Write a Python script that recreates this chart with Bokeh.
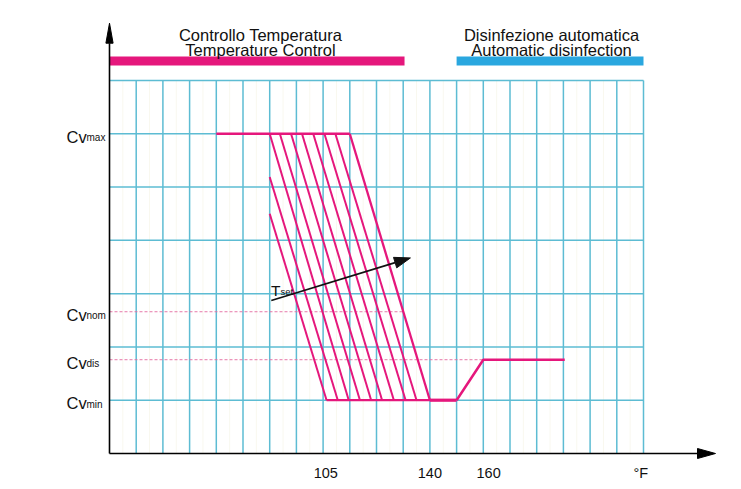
import math
from bokeh.plotting import figure
from bokeh.models import Range1d
from bokeh.core.properties import value
from bokeh.embed import file_html
from bokeh.resources import INLINE

# ---------------- data ----------------
n_cols = 20          # grid columns
n_rows = 7           # grid rows
cv_levels = [6.0, 2.66, 1.76, 1.0]
cv_subs = ["max", "nom", "dis", "min"]
tick_x = [8.1, 12.0, 14.2, 19.9]
tick_labels = ["105", "140", "160", "°F"]

env_top_x = [4.0, 9.0]          # Cv max plateau
env_right_x = [9.0, 12.0]       # highest Tset curve
env_bottom_x = [8.13, 12.0]     # Cv min floor
hold_x = [12.0, 13.0]
dis_x = [13.0, 14.0, 17.05]
dis_y = [1.0, 1.76, 1.76]

hatch_x0 = [6.0, 6.0, 6.0, 6.38, 6.80, 7.21, 7.63, 8.05, 8.46]
hatch_y0 = [4.50, 5.19, 6.0, 6.0, 6.0, 6.0, 6.0, 6.0, 6.0]
hatch_x1 = [8.13, 8.55, 8.96, 9.38, 9.80, 10.21, 10.65, 11.09, 11.50]
hatch_y1 = [1.0, 1.0, 1.0, 1.0, 1.0, 1.0, 1.0, 1.0, 1.0]

phase_line1 = ["Controllo Temperatura", "Disinfezione automatica"]
phase_line2 = ["Temperature Control", "Automatic disinfection"]
phase_start = [0.0, 13.0]
phase_end = [11.05, 20.0]
phase_colors = ["#e5177c", "#2aa7df"]

tset_start = (6.06, 2.87)
tset_end = (11.27, 3.67)
nom_dash_end = 11.0
dis_dash_end = 14.0

# ---------------- layout ----------------
W, H = 725, 481
SX, SY = 26.7, 53.29          # px per data unit
OX, OY = 109, 453             # origin in figure px
MAG = "#e5177c"
GRID = "#5dbcd3"
FONT = value("Liberation Sans")

def dy(img_y):
    return (453 - img_y) / SY

def dx(img_x):
    return (img_x - 109) / SX

p = figure(width=W, height=H, output_backend="svg", toolbar_location=None,
           x_axis_type=None, y_axis_type=None, min_border=0,
           x_range=Range1d(-OX / SX, (W - OX) / SX),
           y_range=Range1d(-(H - OY) / SY, OY / SY))
p.outline_line_color = None
p.xgrid.visible = False
p.ygrid.visible = False
p.background_fill_color = "white"
p.border_fill_color = "white"

# faint minor verticals
p.segment(x0=[k + 0.5 for k in range(n_cols)], y0=[0] * n_cols,
          x1=[k + 0.5 for k in range(n_cols)], y1=[n_rows] * n_cols,
          line_color="#f9f8ef", line_width=1)

# grid
p.segment(x0=list(range(1, n_cols + 1)), y0=[0] * n_cols,
          x1=list(range(1, n_cols + 1)), y1=[n_rows] * n_cols,
          line_color=GRID, line_width=1.5)
p.segment(x0=[0] * n_rows, y0=list(range(1, n_rows + 1)),
          x1=[n_cols] * n_rows, y1=list(range(1, n_rows + 1)),
          line_color=GRID, line_width=1.5)

# dashed reference lines
p.segment(x0=[0, 0], y0=[cv_levels[1], cv_levels[2]],
          x1=[nom_dash_end, dis_dash_end], y1=[cv_levels[1], cv_levels[2]],
          line_color="#e46a9f", line_width=0.9, line_dash="3 2")

# phase bars
p.quad(left=phase_start, right=phase_end, bottom=[dy(65)] * 2, top=[dy(56)] * 2,
       fill_color=phase_colors, line_color=None)
cx = [dx(260), dx(551)]
p.text(x=cx, y=[dy(34.5)] * 2, text=phase_line1, text_font=FONT,
       text_font_size=value("16.5px"), text_align="center",
       text_baseline="alphabetic", text_color="#111111")
p.text(x=cx, y=[dy(49.5)] * 2, text=phase_line2, text_font=FONT,
       text_font_size=value("16.5px"), text_align="center",
       text_baseline="alphabetic", text_color="#111111")

# hatch curves
p.segment(x0=hatch_x0, y0=hatch_y0, x1=hatch_x1, y1=hatch_y1,
          line_color=MAG, line_width=2)
p.line(env_top_x, [cv_levels[0]] * 2, line_color=MAG, line_width=2.5)
p.line(env_right_x, [cv_levels[0], cv_levels[3]], line_color=MAG, line_width=2.3)
p.line(env_bottom_x, [cv_levels[3]] * 2, line_color=MAG, line_width=2.2)
p.line(hold_x, [cv_levels[3]] * 2, line_color=MAG, line_width=3.2)
p.line(dis_x, dis_y, line_color=MAG, line_width=2.5)

# axes
x_tip = dx(715)
y_tip = dy(22.7)
p.line([0, x_tip - 18 / SX], [0, 0], line_color="black", line_width=1.6)
p.line([0, 0], [0, y_tip - 20 / SY], line_color="black", line_width=1.6)
p.patch([x_tip - 18 / SX, x_tip, x_tip - 18 / SX], [5 / SY, 0, -5 / SY],
        fill_color="black", line_color="black", line_width=1)
p.patch([-3.6 / SX, 0, 3.6 / SX], [y_tip - 20 / SY, y_tip, y_tip - 20 / SY],
        fill_color="black", line_color="black", line_width=1)

# Tset arrow
px0, py0 = tset_start[0] * SX, tset_start[1] * SY
px1, py1 = tset_end[0] * SX, tset_end[1] * SY
L = math.hypot(px1 - px0, py1 - py0)
ux, uy = (px1 - px0) / L, (py1 - py0) / L
hl, hw = 16, 5.5
bx, by = px1 - hl * ux, py1 - hl * uy
p.line([tset_start[0], bx / SX], [tset_start[1], by / SY],
       line_color="#111111", line_width=1.6)
p.patch([(bx - hw * uy) / SX, tset_end[0], (bx + hw * uy) / SX],
        [(by + hw * ux) / SY, tset_end[1], (by - hw * ux) / SY],
        fill_color="#111111", line_color="#111111", line_width=1)
p.text(x=[dx(270.5)], y=[dy(289.5)], text=["T"], text_font=FONT,
       text_font_size=value("15.5px"), text_baseline="alphabetic", text_color="#111111")
p.text(x=[dx(280)], y=[dy(291)], text=["set"], text_font=FONT,
       text_font_size=value("9.5px"), text_baseline="alphabetic", text_color="#111111")

# Cv labels
p.text(x=[dx(66)] * 4, y=cv_levels, y_offset=3, text=["Cv"] * 4, text_font=FONT,
       text_font_size=value("16.5px"), text_baseline="alphabetic", text_color="#111111")
p.text(x=[dx(86)] * 4, y=cv_levels, y_offset=4, text=cv_subs, text_font=FONT,
       text_font_size=value("10px"), text_baseline="alphabetic", text_color="#111111")

# tick labels
p.text(x=tick_x, y=[dy(472.5)] * 4, text=tick_labels, text_font=FONT,
       text_font_size=value("14.5px"), text_align="center",
       text_baseline="alphabetic", text_color="#111111")

open("out.html", "w").write(file_html(p, INLINE))
